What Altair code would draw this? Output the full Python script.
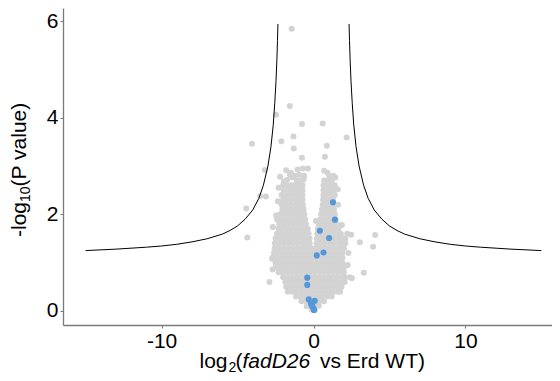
import altair as alt
import pandas as pd

# ---------------- threshold curve ----------------
curve_left_x = [-15, -13, -11, -10, -9, -8, -7, -6, -5.5, -5, -4.5, -4, -3.6, -3.3, -3.0,
                -2.8, -2.65, -2.55, -2.47, -2.41, -2.37, -2.34]
curve_left_y = [1.25, 1.28, 1.32, 1.345, 1.38, 1.43, 1.495, 1.59, 1.665, 1.76, 1.9, 2.09, 2.33,
                2.6, 3.0, 3.4, 3.85, 4.3, 4.75, 5.2, 5.6, 5.94]
curve_right_x = [2.34, 2.37, 2.41, 2.47, 2.55, 2.65, 2.8, 3.0, 3.3, 3.6, 4, 4.5, 5, 5.5, 6, 7,
                 8, 9, 10, 11, 13, 15]
curve_right_y = [5.94, 5.6, 5.2, 4.75, 4.3, 3.85, 3.4, 3.0, 2.6, 2.33, 2.09, 1.9, 1.76, 1.665,
                 1.59, 1.495, 1.43, 1.38, 1.345, 1.32, 1.28, 1.25]

# ---------------- grey proteins (log2 FC, -log10 p) ----------------
grey_outliers = [
    (-1.44, 5.84), (-1.56, 4.24), (-2.47, 4.06), (-0.76, 3.87), (0.61, 3.88), (-4.05, 3.46),
    (-2.12, 3.51), (-1.32, 3.61), (-1.30, 3.36), (2.18, 3.59), (0.88, 3.42), (0.75, 3.19),
    (-0.76, 3.17), (-3.20, 2.92), (-3.50, 2.38), (-3.13, 2.37), (-4.43, 2.12), (-4.36, 1.52),
    (2.22, 1.60), (2.48, 1.58), (3.05, 1.42), (4.06, 1.57), (3.92, 1.33), (3.31, 0.79),
    (2.53, 0.68), (2.41, 0.70), (-2.90, 0.60), (-2.70, 0.86), (-2.72, 1.08), (-2.68, 1.74),
    (1.87, 1.78), (0.16, 1.86), (-2.35, 2.27), (-2.3, 2.55), (-2.45, 1.98), (1.6, 2.52),
    (1.62, 2.2), (-2.2, 2.78), (2.3, 1.2), (2.25, 0.95),
]
grey_base = [
    (-0.12, 0.03), (0.10, 0.02), (0.0, 0.06),
    (-0.45, 0.1), (-0.15, 0.1), (0.15, 0.1), (0.35, 0.11),
    (-0.8, 0.2), (-0.5, 0.2), (-0.2, 0.2), (0.1, 0.2), (0.4, 0.2), (0.7, 0.2),
    (-1.15, 0.3), (-0.85, 0.3), (-0.55, 0.3), (-0.25, 0.3), (0.05, 0.3), (0.35, 0.3), (0.65, 0.3),
    (0.95, 0.3), (1.2, 0.3),
    (-1.7, 0.4), (-1.4, 0.4), (-1.1, 0.4), (-0.8, 0.4), (-0.5, 0.4), (-0.2, 0.4), (0.1, 0.4),
    (0.4, 0.4), (0.7, 0.4), (1.0, 0.4), (1.3, 0.4), (1.6, 0.4), (1.75, 0.4),
    (-1.8, 0.5), (-1.5, 0.5), (-1.2, 0.5), (-0.9, 0.5), (-0.6, 0.5), (-0.3, 0.5), (0.0, 0.5),
    (0.3, 0.5), (0.6, 0.5), (0.9, 0.5), (1.2, 0.5), (1.5, 0.5), (1.68, 0.5), (1.85, 0.5),
    (-1.85, 0.6), (-1.55, 0.6), (-1.25, 0.6), (-0.95, 0.6), (-0.65, 0.6), (-0.35, 0.6),
    (-0.05, 0.6), (0.25, 0.6), (0.55, 0.6), (0.85, 0.6), (1.15, 0.6), (1.45, 0.6), (1.75, 0.6),
    (2.05, 0.6),
    (-2.0, 0.7), (-1.7, 0.7), (-1.4, 0.7), (-1.1, 0.7), (-0.8, 0.7), (-0.5, 0.7), (-0.2, 0.7),
    (0.1, 0.7), (0.4, 0.7), (0.7, 0.7), (1.0, 0.7), (1.3, 0.7), (1.6, 0.7), (1.9, 0.7), (2.1, 0.7),
    (-2.3, 0.8), (-2.0, 0.8), (-1.7, 0.8), (-1.4, 0.8), (-1.1, 0.8), (-0.8, 0.8), (-0.5, 0.8),
    (-0.2, 0.8), (0.1, 0.8), (0.4, 0.8), (0.7, 0.8), (1.0, 0.8), (1.3, 0.8), (1.6, 0.8),
    (1.9, 0.8), (2.0, 0.8),
    (-2.5, 0.9), (-2.2, 0.9), (-1.9, 0.9), (-1.6, 0.9), (-1.3, 0.9), (-1.0, 0.9), (-0.7, 0.9),
    (-0.4, 0.9), (-0.1, 0.9), (0.2, 0.9), (0.5, 0.9), (0.8, 0.9), (1.1, 0.9), (1.4, 0.9),
    (1.7, 0.9), (2.0, 0.9),
    (-2.5, 1.0), (-2.2, 1.0), (-1.9, 1.0), (-1.6, 1.0), (-1.3, 1.0), (-1.0, 1.0), (-0.7, 1.0),
    (-0.4, 1.0), (-0.1, 1.0), (0.2, 1.0), (0.5, 1.0), (0.8, 1.0), (1.1, 1.0), (1.4, 1.0),
    (1.7, 1.0), (1.9, 1.0),
    (-2.7, 1.1), (-2.4, 1.1), (-2.1, 1.1), (-1.8, 1.1), (-1.5, 1.1), (-1.2, 1.1), (-0.9, 1.1),
    (-0.6, 1.1), (-0.3, 1.1), (0.0, 1.1), (0.3, 1.1), (0.6, 1.1), (0.9, 1.1), (1.2, 1.1),
    (1.5, 1.1), (1.8, 1.1), (1.9, 1.1),
    (-2.6, 1.2), (-2.3, 1.2), (-2.0, 1.2), (-1.7, 1.2), (-1.4, 1.2), (-1.1, 1.2), (-0.8, 1.2),
    (-0.5, 1.2), (-0.2, 1.2), (0.1, 1.2), (0.4, 1.2), (0.7, 1.2), (1.0, 1.2), (1.3, 1.2),
    (1.6, 1.2), (1.9, 1.2),
    (-2.55, 1.3), (-2.25, 1.3), (-1.95, 1.3), (-1.65, 1.3), (-1.35, 1.3), (-1.05, 1.3),
    (-0.75, 1.3), (-0.45, 1.3), (-0.15, 1.3), (0.15, 1.3), (0.45, 1.3), (0.75, 1.3), (1.05, 1.3),
    (1.35, 1.3), (1.65, 1.3), (1.95, 1.3), (2.0, 1.3),
]
grey_left_lobe = [
    (-2.55, 1.4), (-2.25, 1.4), (-1.95, 1.4), (-1.65, 1.4), (-1.35, 1.4), (-1.05, 1.4),
    (-0.75, 1.4), (-0.5, 1.4), (-0.25, 1.4),
    (-2.5, 1.5), (-2.2, 1.5), (-1.9, 1.5), (-1.6, 1.5), (-1.3, 1.5), (-1.0, 1.5), (-0.7, 1.5),
    (-0.45, 1.5), (-0.26, 1.5),
    (-2.4, 1.6), (-2.1, 1.6), (-1.8, 1.6), (-1.5, 1.6), (-1.2, 1.6), (-0.9, 1.6), (-0.6, 1.6),
    (-0.32, 1.6),
    (-2.3, 1.7), (-2.0, 1.7), (-1.7, 1.7), (-1.4, 1.7), (-1.1, 1.7), (-0.8, 1.7), (-0.55, 1.7),
    (-0.38, 1.7),
    (-2.25, 1.8), (-1.95, 1.8), (-1.65, 1.8), (-1.35, 1.8), (-1.05, 1.8), (-0.77, 1.8),
    (-0.5, 1.8),
    (-2.4, 1.9), (-2.1, 1.9), (-1.8, 1.9), (-1.5, 1.9), (-1.2, 1.9), (-0.95, 1.9), (-0.72, 1.9),
    (-0.55, 1.9),
    (-2.2, 2.0), (-1.9, 2.0), (-1.6, 2.0), (-1.3, 2.0), (-1.0, 2.0), (-0.75, 2.0), (-0.6, 2.0),
    (-2.05, 2.1), (-1.8, 2.1), (-1.55, 2.1), (-1.25, 2.1), (-0.95, 2.1), (-0.65, 2.1),
    (-2.1, 2.2), (-1.8, 2.2), (-1.5, 2.2), (-1.2, 2.2), (-0.95, 2.2), (-0.7, 2.2),
    (-2.0, 2.3), (-1.75, 2.3), (-1.5, 2.3), (-1.2, 2.3), (-0.95, 2.3), (-0.72, 2.3),
    (-2.1, 2.4), (-1.8, 2.4), (-1.5, 2.4), (-1.2, 2.4), (-0.95, 2.4), (-0.72, 2.4),
    (-1.95, 2.5), (-1.7, 2.5), (-1.45, 2.5), (-1.2, 2.5), (-0.95, 2.5), (-0.72, 2.5),
    (-2.0, 2.6), (-1.7, 2.6), (-1.45, 2.6), (-1.2, 2.6), (-0.95, 2.6), (-0.72, 2.6),
    (-1.75, 2.71), (-1.42, 2.77), (-1.1, 2.7), (-0.85, 2.7), (-0.65, 2.72), (-1.95, 2.68),
    (-1.55, 2.82), (-1.25, 2.8), (-0.95, 2.82), (-0.62, 2.8),
    (-1.80, 2.91), (-1.49, 2.86), (-1.05, 2.93), (-0.70, 2.95), (-0.37, 2.95),
]
grey_right_lobe = [
    (0.2, 1.4), (0.45, 1.4), (0.75, 1.4), (1.05, 1.4), (1.35, 1.4), (1.65, 1.4), (1.9, 1.4),
    (2.1, 1.4),
    (0.23, 1.5), (0.5, 1.5), (0.8, 1.5), (1.1, 1.5), (1.4, 1.5), (1.7, 1.5), (1.95, 1.5),
    (2.1, 1.5),
    (0.25, 1.6), (0.52, 1.6), (0.8, 1.6), (1.08, 1.6), (1.36, 1.6), (1.6, 1.6), (1.8, 1.6),
    (0.28, 1.7), (0.55, 1.7), (0.83, 1.7), (1.11, 1.7), (1.39, 1.7), (1.65, 1.7),
    (0.36, 1.8), (0.66, 1.8), (0.96, 1.8), (1.26, 1.8), (1.55, 1.8),
    (0.45, 1.9), (0.72, 1.9), (1.0, 1.9), (1.25, 1.9), (1.45, 1.9),
    (0.5, 2.0), (0.8, 2.0), (1.1, 2.0), (1.4, 2.0),
    (0.55, 2.1), (0.82, 2.1), (1.1, 2.1), (1.35, 2.1),
    (0.6, 2.2), (0.85, 2.2), (1.1, 2.2), (1.3, 2.2),
    (0.63, 2.3), (0.87, 2.3), (1.1, 2.3), (1.3, 2.3),
    (0.65, 2.4), (0.9, 2.4), (1.15, 2.4), (1.4, 2.4),
    (0.66, 2.5), (0.92, 2.5), (1.18, 2.5), (1.4, 2.5),
    (0.66, 2.6), (0.92, 2.6), (1.18, 2.6), (1.4, 2.6),
    (0.7, 2.7), (0.95, 2.7), (1.2, 2.7), (1.43, 2.76),
    (0.92, 2.86), (1.05, 2.79), (1.3, 2.8), (0.70, 2.90),
]

# ---------------- highlighted (blue) proteins ----------------
blue_x = [1.28, 1.41, 0.42, 1.03, 0.66, 0.22, -0.41, -0.41, -0.31, 0.08, -0.17, -0.07, 0.0,
          -0.12, 0.03]
blue_y = [2.25, 1.89, 1.66, 1.51, 1.21, 1.15, 0.69, 0.54, 0.24, 0.21, 0.16, 0.10, 0.05,
          0.12, 0.02]

x_ticks = [-10, 0, 10]
y_ticks = [0, 2, 4, 6]

# ---------------- build tables ----------------
grey_all = grey_outliers + grey_base + grey_left_lobe + grey_right_lobe
grey_df = pd.DataFrame(grey_all, columns=["fc", "p"])
blue_df = pd.DataFrame({"fc": blue_x, "p": blue_y})
curve_df = pd.concat([
    pd.DataFrame({"fc": curve_left_x, "p": curve_left_y, "branch": "L",
                  "i": range(len(curve_left_x))}),
    pd.DataFrame({"fc": curve_right_x, "p": curve_right_y, "branch": "R",
                  "i": range(len(curve_right_x))}),
])

W, H = 489, 317
FONT = "Liberation Sans"
xs = alt.Scale(domain=[-16.49, 15.70], nice=False, zero=False)
ys = alt.Scale(domain=[-0.29, 6.27], nice=False, zero=False)

axis_common = dict(grid=False, title=None, domainColor="#7a7a7a", domainWidth=1.3,
                   tickColor="#7a7a7a", tickWidth=1, tickSize=3, labelFontSize=21,
                   labelColor="black", labelFont=FONT, labelExpr="'' + datum.value")
x_axis = alt.Axis(values=x_ticks, labelPadding=2, **axis_common)
y_axis = alt.Axis(values=y_ticks, labelPadding=2, labelBaseline="middle", **axis_common)

grey = alt.Chart(grey_df).mark_circle(size=36, opacity=1, color="#d3d3d3").encode(
    x=alt.X("fc:Q", scale=xs, axis=x_axis),
    y=alt.Y("p:Q", scale=ys, axis=y_axis),
)
blue = alt.Chart(blue_df).mark_circle(size=38, opacity=1, color="#5597d8").encode(
    x=alt.X("fc:Q", scale=xs),
    y=alt.Y("p:Q", scale=ys),
)
curve = alt.Chart(curve_df).mark_line(color="black", strokeWidth=1).encode(
    x=alt.X("fc:Q", scale=xs),
    y=alt.Y("p:Q", scale=ys),
    detail="branch:N",
    order="i:Q",
)


def label(txt, px, py, size=21, style="normal", angle=0):
    return alt.Chart(pd.DataFrame({"t": [txt]})).mark_text(
        align="left", baseline="alphabetic", fontSize=size, fontStyle=style,
        font=FONT, color="black", angle=angle,
    ).encode(x=alt.value(px), y=alt.value(py), text="t:N")


XB = 360  # x-title baseline (plot coordinates)
titles = [
    label("log", 136.5, XB),
    label("2", 165.5, XB + 3.5, size=14),
    label("(", 172.5, XB),
    label("fadD26", 179.5, XB, style="italic"),
    label("vs Erd WT)", 257, XB),
    label("-log", -37, 229, angle=270),
    label("10", -33, 194, size=14, angle=270),
    label("(P value)", -37, 178.4, angle=270),
]

chart = alt.layer(grey, blue, curve, *titles).properties(
    width=W, height=H,
    padding={"left": 55, "top": 0, "right": 0, "bottom": 48},
    autosize=alt.AutoSizeParams(type="none"),
).configure_view(stroke=None)

chart.save("out.html", embed_options={"renderer": "svg", "actions": False})
